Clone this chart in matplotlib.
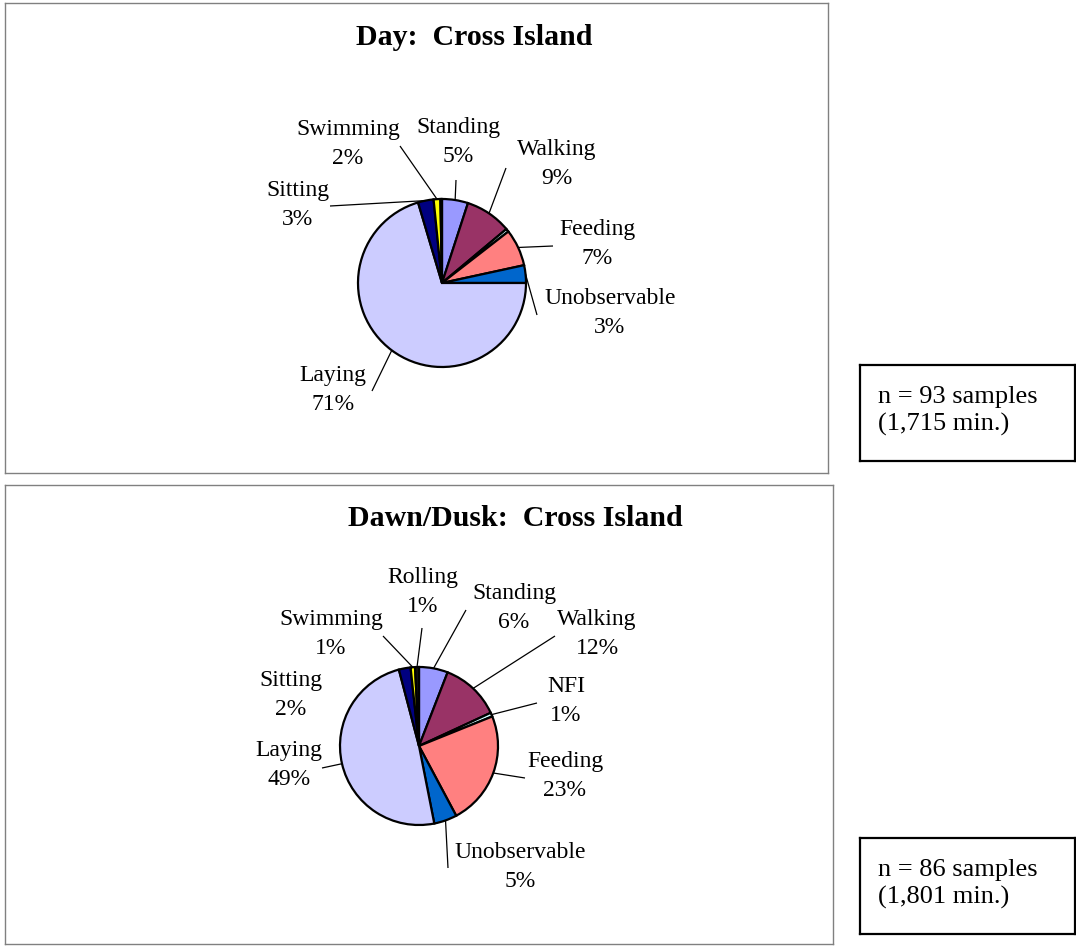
import numpy as np
import matplotlib.pyplot as plt

# --- canvas (pixel coordinates, y measured from top) ---
W, H = 1076, 946
plt.rcParams['font.family'] = ['Liberation Serif', 'DejaVu Serif']

# --- data ---
categories = ["Standing", "Walking", "NFI", "Feeding", "Unobservable",
              "Laying", "Sitting", "Swimming", "Rolling"]
slice_colors = ["#9999FF", "#993366", "#CCFFFF", "#FF8080", "#0066CC",
                "#CCCCFF", "#000080", "#FFFF00", "#111111"]

day_values = [5.0, 8.9, 0.6, 7.1, 3.4, 70.4, 3.0, 1.3, 0.3]
day_shown = ["5%", "9%", None, "7%", "3%", "71%", "3%", "2%", None]

dawn_values = [5.9, 12.2, 0.8, 23.3, 4.7, 49.0, 2.4, 0.9, 0.8]
dawn_shown = ["6%", "12%", "1%", "23%", "5%", "49%", "2%", "1%", "1%"]

day_note = "n = 93 samples\n(1,715 min.)"
dawn_note = "n = 86 samples\n(1,801 min.)"

# --- layout: label centre and leader start (pixels) ---
day_layout = {
    "Standing": ((458, 142), (456, 180)),
    "Walking": ((557, 164), (506, 168)),
    "Feeding": ((597, 244), (553, 246)),
    "Unobservable": ((610, 313), (537, 315)),
    "Laying": ((333, 390), (372, 391)),
    "Sitting": ((298, 205), (330, 206)),
    "Swimming": ((348, 144), (400, 146)),
}
dawn_layout = {
    "Rolling": ((423, 592), (422, 628)),
    "Standing": ((514, 608), (466, 610)),
    "Swimming": ((331, 634), (383, 636)),
    "Walking": ((597, 634), (555, 636)),
    "NFI": ((566, 701), (537, 703)),
    "Sitting": ((291, 695), None),
    "Laying": ((289, 765), (322, 768)),
    "Feeding": ((565, 776), (525, 778)),
    "Unobservable": ((520, 867), (448, 868)),
}


def panel(fig, box, title, title_xy, values, shown, layout, center, radius):
    x0, y0, x1, y1 = box
    ax = fig.add_axes([x0 / W, 1 - y1 / H, (x1 - x0) / W, (y1 - y0) / H])
    cx, cy = center
    wedges, _ = ax.pie(values, colors=slice_colors, startangle=90,
                       counterclock=False, center=(cx, H - cy), radius=radius,
                       frame=True,
                       wedgeprops=dict(edgecolor="black", linewidth=1.6))
    ax.set_xlim(x0, x1)
    ax.set_ylim(H - y1, H - y0)
    ax.set_xticks([])
    ax.set_yticks([])
    for s in ax.spines.values():
        s.set_color("#808080")
        s.set_linewidth(1.0)

    ax.text(title_xy[0], H - title_xy[1], title, ha="center", va="center",
            fontsize=21.5, fontweight="bold")

    for name, w, pct in zip(categories, wedges, shown):
        if pct is None or name not in layout:
            continue
        (tx, ty), lead = layout[name]
        ax.text(tx, H - ty, f"{name}\n{pct}", ha="center", va="center",
                fontsize=17, linespacing=1.45)
        if lead is not None:
            mid = np.deg2rad((w.theta1 + w.theta2) / 2)
            ex = cx + radius * np.cos(mid)
            ey = (H - cy) + radius * np.sin(mid)
            ax.plot([lead[0], ex], [H - lead[1], ey], color="black",
                    linewidth=0.9, solid_capstyle="butt")
    return ax


def note_box(fig, box, text):
    x0, y0, x1, y1 = box
    ax = fig.add_axes([x0 / W, 1 - y1 / H, (x1 - x0) / W, (y1 - y0) / H])
    ax.set_xticks([])
    ax.set_yticks([])
    for s in ax.spines.values():
        s.set_color("black")
        s.set_linewidth(1.6)
    ax.text(18 / (x1 - x0), 0.52, text, transform=ax.transAxes,
            ha="left", va="center", fontsize=19, linespacing=1.3)


fig = plt.figure(figsize=(W / 100, H / 100), dpi=100)

panel(fig, (5, 3, 828, 473), "Day:  Cross Island", (474, 38),
      day_values, day_shown, day_layout, (442, 283), 84)
panel(fig, (5, 485, 833, 944), "Dawn/Dusk:  Cross Island", (515, 519),
      dawn_values, dawn_shown, dawn_layout, (419, 746), 79)

note_box(fig, (860, 365, 1075, 461), day_note)
note_box(fig, (860, 838, 1075, 934), dawn_note)

fig.savefig("out.png", dpi=100)
plt.close(fig)
